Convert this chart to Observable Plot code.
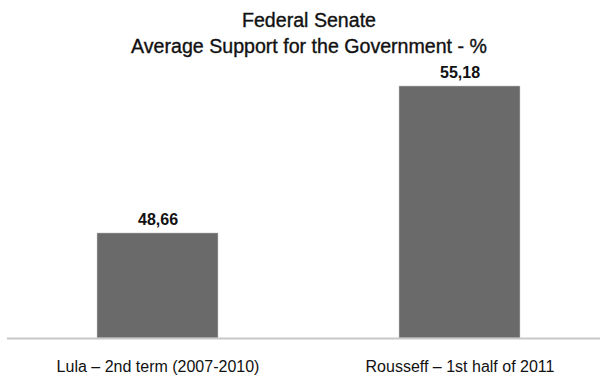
<!DOCTYPE html>
<html>
<head>
<meta charset="utf-8">
<script src="https://cdn.jsdelivr.net/npm/d3@7"></script>
<script src="https://cdn.jsdelivr.net/npm/@observablehq/plot@0.6"></script>
<style>
  html, body { margin: 0; padding: 0; background: #fff; }
  #title {
    box-sizing: border-box;
    width: 600px; height: 60px;
    padding-top: 7px; padding-left: 18px;
    text-align: center;
    font-family: "Liberation Sans", Arial, sans-serif;
    font-size: 19.6px; line-height: 26px;
    color: #111;
    -webkit-text-stroke: 0.35px #111;
  }
  #chart svg { display: block; }
</style>
</head>
<body>
<div id="title">Federal Senate<br>Average Support for the Government - %</div>
<div id="chart"></div>
<script>
const categories = ["Lula – 2nd term (2007-2010)", "Rousseff – 1st half of 2011"];
const values = [48.66, 55.18];
const valueLabels = ["48,66", "55,18"];
const yDomain = [44, 56];

const data = categories.map((c, i) => ({category: c, value: values[i], label: valueLabels[i]}));

const chart = Plot.plot({
  width: 600,
  height: 319,
  marginLeft: 7,
  marginRight: 0,
  marginTop: 7.5,
  marginBottom: 41,
  style: {fontFamily: "Liberation Sans, Arial, sans-serif", fontSize: "16px", background: "#fff", color: "#111"},
  x: {domain: categories, paddingInner: 0.6, paddingOuter: 0.28, align: 0.527, label: null},
  y: {domain: yDomain, axis: null},
  marks: [
    Plot.barY(data, {x: "category", y1: yDomain[0], y2: "value", fill: "#6a6a6a", stroke: "#cfcfcf", strokeWidth: 0.5}),
    Plot.ruleY([yDomain[0]], {stroke: "#c8c8c8", strokeWidth: 2}),
    Plot.text(data, {x: "category", y: "value", text: "label", lineAnchor: "bottom", dy: -8.5, fontWeight: "bold", fontSize: 16, fill: "#111"}),
    Plot.axisX({tickSize: 0, tickPadding: 22.6, fontSize: 16, fill: "#111", label: null})
  ]
});
document.getElementById("chart").appendChild(chart);
</script>
</body>
</html>
